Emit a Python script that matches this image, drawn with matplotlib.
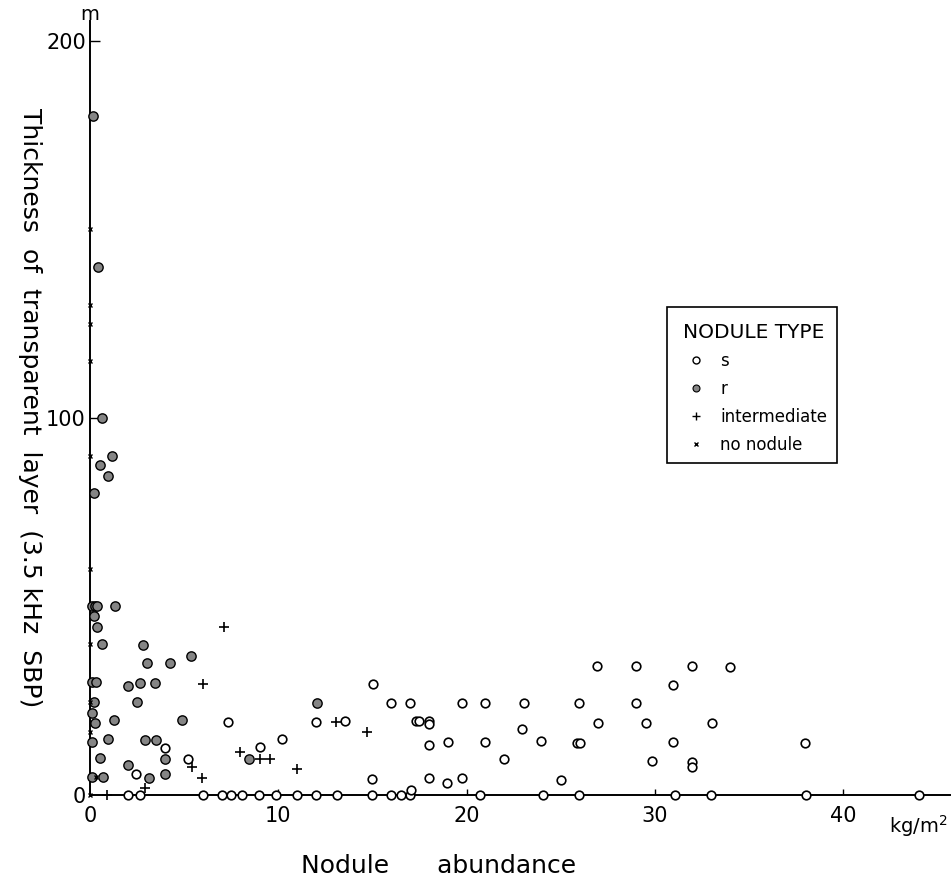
import matplotlib
matplotlib.use("Agg")
import matplotlib.pyplot as plt
from matplotlib.lines import Line2D
from matplotlib.patches import Rectangle

plt.rcParams['font.family'] = ['DejaVu Sans']

# ---- data ----
# s-type nodules (open circles)
s_x = [2.04, 2.66, 6.02, 7.0, 7.5, 8.09, 9.0, 9.88, 11.0, 12.0, 13.1, 15.0, 15.97, 16.5, 17.0,
       20.7, 24.04, 25.99, 31.05, 32.96, 38.0, 44.0,
       17.05, 9.03, 10.18, 12.02, 13.54, 15.05, 14.99, 15.97, 16.99, 17.3, 17.47, 17.98, 17.98,
       17.98, 17.98, 18.99, 18.98, 19.76, 19.77, 20.96, 20.96, 21.97, 23.06, 22.94, 23.95, 25.0,
       25.97, 25.85, 26.02, 26.94, 26.98, 29.0, 29.0, 29.51, 29.86, 30.96, 30.96, 31.97, 31.97,
       31.97, 33.03, 33.97, 37.99, 7.34, 4.0, 5.2, 2.43]
s_y = [0, 0, 0, 0, 0, 0, 0, 0, 0, 0, 0, 0, 0, 0, 0,
       0, 0, 0, 0, 0, 0, 0,
       1.4, 12.6, 14.9, 19.4, 19.6, 29.4, 4.3, 24.4, 24.4, 19.5, 19.5, 19.7, 18.7,
       13.3, 4.4, 14.1, 3.1, 24.3, 4.4, 24.3, 14.1, 9.5, 24.3, 17.5, 14.3, 4.0,
       24.3, 13.9, 13.9, 34.2, 19.2, 34.2, 24.3, 19.2, 9.1, 29.1, 14.1, 34.2, 8.8,
       7.5, 19.2, 34.0, 13.7, 19.4, 12.5, 9.6, 5.6]

# r-type nodules (filled circles)
r_x = [0.18, 0.44, 0.65, 1.19, 0.53, 0.97, 0.23, 0.1, 0.25, 0.35, 1.33, 0.2, 0.39, 0.62, 2.83,
       5.38, 3.01, 4.27, 0.1, 0.3, 2.04, 2.67, 3.47, 2.48, 0.2, 0.12, 0.27, 1.27, 4.89, 0.12,
       0.94, 2.92, 3.49, 0.51, 4.0, 8.44, 2.0, 0.12, 0.67, 3.12, 4.0, 12.07]
r_y = [180, 140, 100, 90, 87.4, 84.7, 80, 50, 50, 50, 50, 47.4, 44.6, 40, 39.7,
       37, 34.9, 34.9, 30, 30, 28.9, 29.7, 29.7, 24.7, 24.7, 21.7, 19, 19.8, 19.8, 14,
       14.9, 14.7, 14.7, 9.9, 9.5, 9.5, 7.9, 4.8, 4.8, 4.5, 5.7, 24.3]

# intermediate (plus)
i_x = [7.13, 5.98, 7.95, 9.03, 9.56, 5.42, 5.96, 2.9, 0.92, 10.97, 13.05, 14.7]
i_y = [44.6, 29.5, 11.4, 9.5, 9.5, 7.5, 4.4, 1.8, 0, 6.9, 19.4, 16.6]

# no nodule (x)
n_x = [0, 0, 0, 0, 0, 0, 0, 0, 0, 0, 0.3]
n_y = [150, 130, 125, 115, 90, 60, 40, 24.6, 16.6, 0, 4.8]

x_ticks = [0, 10, 20, 30, 40]
y_ticks = [0, 100, 200]

legend_labels = ['s', 'r', 'intermediate', 'no nodule']

# ---- figure ----
W, H = 953, 889
fig = plt.figure(figsize=(W / 100, H / 100), dpi=100)
ax = fig.add_axes([90 / W, (H - 795) / H, 860 / W, 774 / H])
ax.set_xlim(0, 45.67)
ax.set_ylim(0, 205.3)

for side in ('top', 'right'):
    ax.spines[side].set_visible(False)
for side in ('left', 'bottom'):
    ax.spines[side].set_linewidth(1.4)
    ax.spines[side].set_color('black')

ax.set_xticks(x_ticks)
ax.set_xticklabels([str(v) for v in x_ticks])
ax.set_yticks(y_ticks)
ax.set_yticklabels([str(v) for v in y_ticks])
ax.tick_params(axis='x', direction='in', length=4, width=1, pad=8, labelsize=15)
ax.tick_params(axis='y', direction='in', length=7, width=1, pad=3, labelsize=15)
ax.yaxis.get_major_ticks()[0].tick1line.set_visible(False)
ax.xaxis.get_major_ticks()[0].tick1line.set_visible(False)

ax.plot(s_x, s_y, linestyle='none', marker='o', ms=6.2, mfc='white', mec='black', mew=1.2,
        clip_on=False, zorder=3)
ax.plot(r_x, r_y, linestyle='none', marker='o', ms=6.7, mfc='#858585', mec='black', mew=1.0,
        clip_on=False, zorder=3)
ax.plot(i_x, i_y, linestyle='none', marker='+', ms=7, mec='black', mew=1.2,
        clip_on=False, zorder=3)
ax.plot(n_x, n_y, linestyle='none', marker='x', ms=3.5, mec='black', mew=1.0,
        clip_on=False, zorder=3)

ax.set_ylabel('Thickness  of  transparent  layer  (3.5 kHz  SBP)', fontsize=18, rotation=-90)
ax.yaxis.set_label_coords(-0.084, 0.50)
ax.set_xlabel('Nodule      abundance', fontsize=18)
ax.xaxis.set_label_coords(0.405, -0.076)

ax.text(0.0, 1.009, 'm', transform=ax.transAxes, ha='center', va='center', fontsize=14)
ax.text(0.963, -0.040, 'kg/m$^2$', transform=ax.transAxes, ha='center', va='center', fontsize=14)

# legend frame
ax.add_patch(Rectangle((0.671, 0.429), 0.8686 - 0.671, 0.6305 - 0.429, transform=ax.transAxes,
                       fill=False, edgecolor='black', linewidth=1.2, clip_on=False, zorder=4))

handles = [
    Line2D([], [], linestyle='none', marker='o', ms=5, mfc='white', mec='black', mew=1.0),
    Line2D([], [], linestyle='none', marker='o', ms=5, mfc='#858585', mec='black', mew=0.8),
    Line2D([], [], linestyle='none', marker='+', ms=6, mec='black', mew=1.0),
    Line2D([], [], linestyle='none', marker='x', ms=3.5, mec='black', mew=1.0),
]
leg = ax.legend(handles, legend_labels, title='NODULE TYPE',
                loc='upper left', bbox_to_anchor=(0.6895, 0.6095), frameon=False,
                fontsize=12, title_fontsize=14.5,
                alignment='left', handlelength=1.6, handletextpad=0.64, labelspacing=0.6,
                borderpad=0, borderaxespad=0)

fig.savefig('out.png', dpi=100)
